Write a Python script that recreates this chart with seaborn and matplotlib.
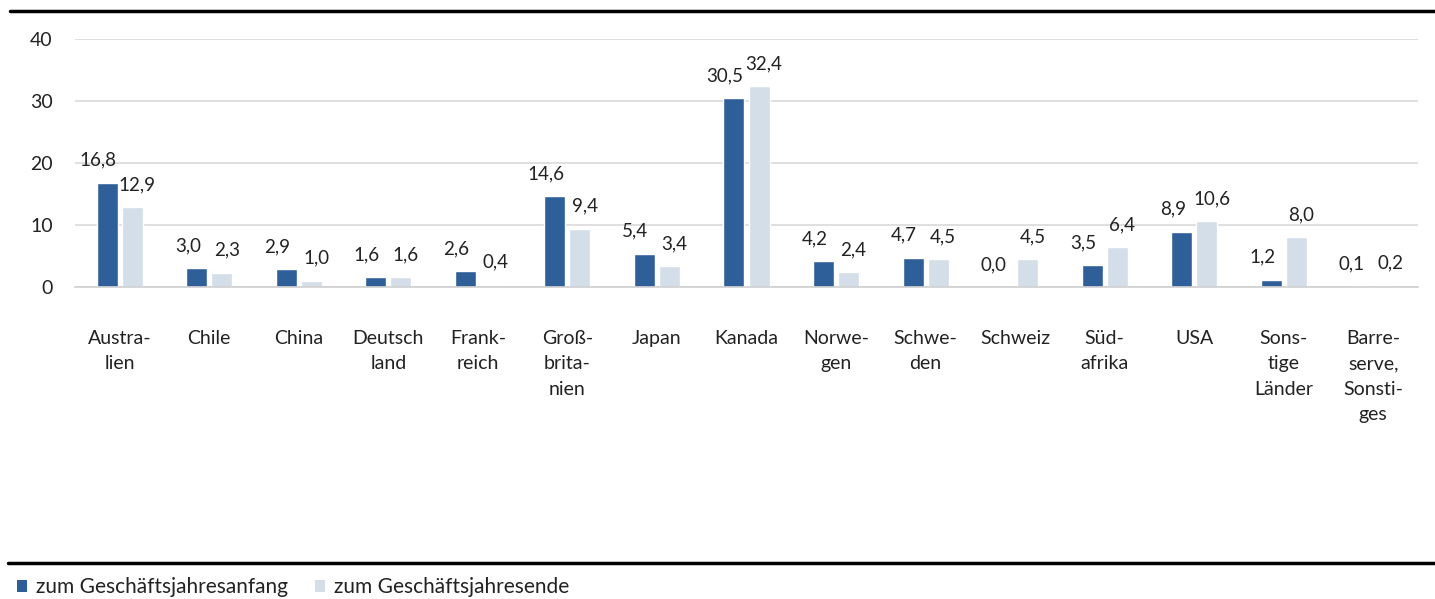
import pandas as pd
import seaborn as sns
import matplotlib.pyplot as plt
from matplotlib.patches import Patch
from matplotlib.lines import Line2D

# Data
laender = ['Austra-\nlien', 'Chile', 'China', 'Deutsch\nland', 'Frank-\nreich', 'Groß-\nbrita-\nnien',
           'Japan', 'Kanada', 'Norwe-\ngen', 'Schwe-\nden', 'Schweiz', 'Süd-\nafrika', 'USA',
           'Sons-\ntige\nLänder', 'Barre-\nserve,\nSonsti-\nges']
anfang = [16.8, 3.0, 2.9, 1.6, 2.6, 14.6, 5.4, 30.5, 4.2, 4.7, 0.0, 3.5, 8.9, 1.2, 0.1]
ende = [12.9, 2.3, 1.0, 1.6, 0.4, 9.4, 3.4, 32.4, 2.4, 4.5, 4.5, 6.4, 10.6, 8.0, 0.2]
serien = ['zum Geschäftsjahresanfang', 'zum Geschäftsjahresende']
farben = ['#2F5F98', '#D3DEE9']

df = pd.DataFrame({
    'Land': laender * 2,
    'Wert': anfang + ende,
    'Serie': [serien[0]] * len(laender) + [serien[1]] * len(laender),
})

sns.set_style('white')
plt.rcParams['font.family'] = ['Lato', 'DejaVu Sans']
txt = '#222222'

fig = plt.figure(figsize=(14.35, 5.99), dpi=100)
ax = fig.add_axes([75 / 1435, 1 - 287 / 599, 1343 / 1435, 248 / 599])

sns.barplot(data=df, x='Land', y='Wert', hue='Serie', palette=farben, width=0.56, gap=0.16,
            legend=False, ax=ax, saturation=1)

# value labels, nudged sideways like in the original so neighbours don't collide
shifts = [-9, 5]
for c, dx in zip(ax.containers, shifts):
    for bar, v in zip(c, c.datavalues):
        ax.annotate(f'{v:.1f}'.replace('.', ','),
                    (bar.get_x() + bar.get_width() / 2, bar.get_height()),
                    xytext=(dx, 14), textcoords='offset pixels',
                    ha='center', va='bottom', fontsize=13.5, color=txt)

ax.set_ylim(0, 40)
ax.set_xlim(-0.5, len(laender) - 0.5)
ax.set_yticks([0, 10, 20, 30, 40])
ax.yaxis.grid(True, color='#D9D9D9', linewidth=1.2)
ax.set_axisbelow(True)
for s in ['top', 'right', 'left']:
    ax.spines[s].set_visible(False)
ax.spines['bottom'].set_color('#D0D0D0')
ax.spines['bottom'].set_linewidth(1.2)
ax.tick_params(axis='y', length=0, pad=16, labelsize=14, labelcolor=txt)
ax.tick_params(axis='x', length=0, pad=31, labelsize=14, labelcolor=txt)
for lbl in ax.get_xticklabels():
    lbl.set_linespacing(1.6)
    lbl.set_verticalalignment('top')
ax.set_xlabel('')
ax.set_ylabel('')

# black rules
fig.add_artist(Line2D([10 / 1435, 1], [1 - 11 / 599] * 2, color='black', linewidth=2.5))
fig.add_artist(Line2D([8 / 1435, 1], [1 - 563 / 599] * 2, color='black', linewidth=2.5))

handles = [Patch(facecolor=f, edgecolor='none') for f in farben]
fig.legend(handles, serien, loc='center left', bbox_to_anchor=(17 / 1435, 1 - 587 / 599), ncol=2,
           frameon=False, fontsize=15, handlelength=0.5, handleheight=0.5, handletextpad=0.4,
           columnspacing=1.3, labelcolor=txt, borderaxespad=0, borderpad=0)

fig.savefig('out.png', dpi=100)
